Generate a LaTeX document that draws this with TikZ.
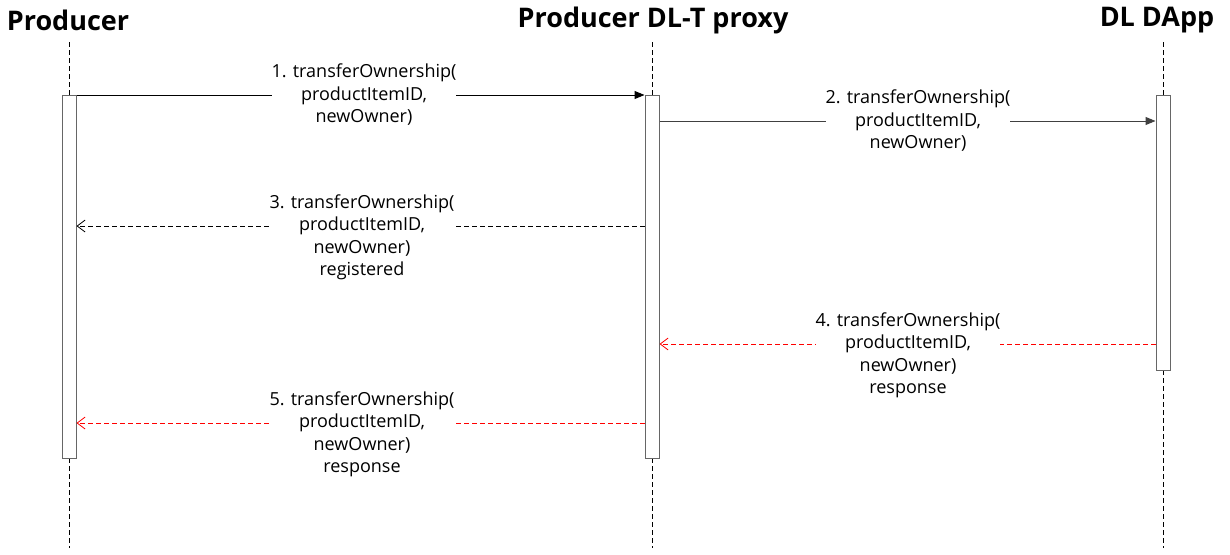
\documentclass[tikz,border=0pt]{standalone}
\usepackage{fontspec}
\setmainfont{Open Sans}
\usetikzlibrary{arrows.meta}
\begin{document}
\begin{tikzpicture}[x=1pt,y=-1pt,
  title/.style={font=\fontsize{27}{30}\selectfont\bfseries, inner sep=0pt},
  life/.style={dashed, dash pattern=on 5pt off 3pt, line width=1pt},
  act/.style={draw=black!60, fill=white, line width=1pt, minimum width=14pt, inner sep=0pt},
  msg/.style={font=\fontsize{18}{22.5}\selectfont, fill=white, align=center, inner sep=0pt},
  call/.style={line width=1pt, -{Triangle[length=10pt,width=8pt]}},
  ret/.style={line width=0.8pt, dash pattern=on 5pt off 3pt, -{Straight Barb[length=8pt,width=12pt,line width=0.8pt]}},
  red ret/.style={ret, draw=red}]
\useasboundingbox (0,0) rectangle (1230,554);
% titles
\node[title] (tP) at (68,20) {Producer};
\node[title] (tX) at (653,20) {Producer DL-T proxy};
\node[title] (tD) at (1157,20) {DL DApp};
% lifelines
\coordinate (lP) at (69,548);
\coordinate (lX) at (652,548);
\coordinate (lD) at (1163,548);
\draw[life] (69,42) -- (lP);
\draw[life] (652,42) -- (lX);
\draw[life] (1163,42) -- (lD);
% activations
\node[act, minimum height=363pt, anchor=north] (aP) at (69,95) {};
\node[act, minimum height=363pt, anchor=north] (aX) at (652,95) {};
\node[act, minimum height=275pt, anchor=north] (aD) at (1163,95) {};
% messages
\draw[call] (aP.north east) -- (aX.north west);
\node[msg] (m1) at (364,95) {1. transferOwnership(\\productItemID,\\newOwner)};
\draw[call, draw=black!75] ([yshift=-26pt]aX.north east) -- ([yshift=-26pt]aD.north west);
\node[msg] (m2) at (918,121) {2. transferOwnership(\\productItemID,\\newOwner)};
\draw[ret] ([yshift=-131pt]aX.north west) -- ([yshift=-131pt]aP.north east);
\node[msg] (m3) at (362,237.5) {3. transferOwnership(\\productItemID,\\newOwner)\\registered};
\draw[red ret] ([yshift=-249pt]aD.north west) -- ([yshift=-249pt]aX.north east);
\node[msg] (m4) at (908,355.5) {4. transferOwnership(\\productItemID,\\newOwner)\\response};
\draw[red ret] ([yshift=-328pt]aX.north west) -- ([yshift=-328pt]aP.north east);
\node[msg] (m5) at (362,434.5) {5. transferOwnership(\\productItemID,\\newOwner)\\response};
\end{tikzpicture}
\end{document}
